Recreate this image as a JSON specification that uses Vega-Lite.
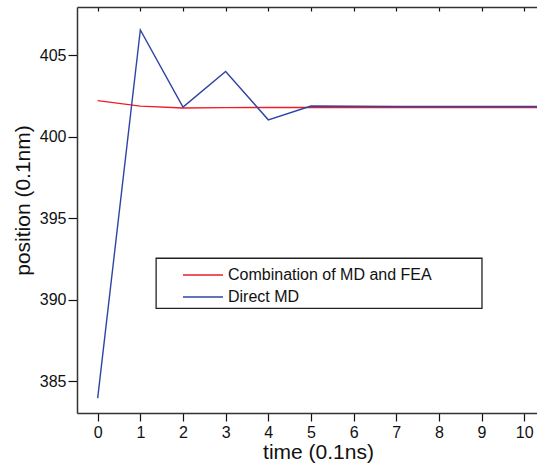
{
  "$schema": "https://vega.github.io/schema/vega-lite/v6.json",
  "width": 460,
  "height": 406,
  "autosize": {"type": "none"},
  "padding": {"left": 77, "top": 7, "right": 0, "bottom": 54},
  "background": "white",
  "config": {
    "view": {"stroke": null},
    "font": "Liberation Sans",
    "axis": {
      "domainColor": "#333333",
      "domainWidth": 1.5,
      "tickColor": "#111111",
      "tickWidth": 1.2,
      "labelColor": "#111111",
      "titleColor": "#111111",
      "labelFontSize": 16,
      "titleFontSize": 21,
      "titleFontWeight": "normal",
      "grid": false
    }
  },
  "layer": [
    {
      "data": {"values": [{"k": "box"}]},
      "mark": {"type": "rect", "stroke": "#222222", "strokeWidth": 1.3, "fill": "white"},
      "encoding": {
        "x": {"datum": 1.37, "type": "quantitative", "scale": {"domain": [-0.485, 10.3], "nice": false, "zero": false}, "axis": null},
        "x2": {"datum": 9.01},
        "y": {
          "datum": 392.54,
          "type": "quantitative",
          "scale": {"domain": [383.05, 407.95], "nice": false, "zero": false},
          "axis": {
            "values": [385, 390, 395, 400, 405],
            "tickSize": 9,
            "labelPadding": 2,
            "title": "position (0.1nm)",
            "titleX": -54,
            "titleY": 193,
            "titleBaseline": "middle",
            "titleAngle": 270
          }
        },
        "y2": {"datum": 389.47}
      }
    },
    {
      "data": {
        "values": [
          {"t": 0, "pos": 402.21, "series": "Combination of MD and FEA"},
          {"t": 1, "pos": 401.87, "series": "Combination of MD and FEA"},
          {"t": 2, "pos": 401.76, "series": "Combination of MD and FEA"},
          {"t": 3, "pos": 401.78, "series": "Combination of MD and FEA"},
          {"t": 4, "pos": 401.79, "series": "Combination of MD and FEA"},
          {"t": 5, "pos": 401.79, "series": "Combination of MD and FEA"},
          {"t": 6, "pos": 401.79, "series": "Combination of MD and FEA"},
          {"t": 7, "pos": 401.79, "series": "Combination of MD and FEA"},
          {"t": 8, "pos": 401.79, "series": "Combination of MD and FEA"},
          {"t": 9, "pos": 401.79, "series": "Combination of MD and FEA"},
          {"t": 10, "pos": 401.79, "series": "Combination of MD and FEA"},
          {"t": 11, "pos": 401.79, "series": "Combination of MD and FEA"},
          {"t": 0, "pos": 383.96, "series": "Direct MD"},
          {"t": 1, "pos": 406.54, "series": "Direct MD"},
          {"t": 2, "pos": 401.81, "series": "Direct MD"},
          {"t": 3, "pos": 403.99, "series": "Direct MD"},
          {"t": 4, "pos": 401.03, "series": "Direct MD"},
          {"t": 5, "pos": 401.88, "series": "Direct MD"},
          {"t": 6, "pos": 401.86, "series": "Direct MD"},
          {"t": 7, "pos": 401.85, "series": "Direct MD"},
          {"t": 8, "pos": 401.85, "series": "Direct MD"},
          {"t": 9, "pos": 401.85, "series": "Direct MD"},
          {"t": 10, "pos": 401.85, "series": "Direct MD"},
          {"t": 11, "pos": 401.85, "series": "Direct MD"}
        ]
      },
      "encoding": {
        "y": {"field": "pos", "type": "quantitative"},
        "color": {
          "field": "series",
          "type": "nominal",
          "scale": {
            "domain": ["Combination of MD and FEA", "Direct MD"],
            "range": ["#ee1c25", "#2f45a6"]
          },
          "legend": {
            "title": null,
            "orient": "none",
            "legendX": 117,
            "legendY": 259,
            "padding": 0,
            "symbolType": "M-2.5,0H2.5",
            "symbolSize": 256,
            "symbolStrokeWidth": 1.5,
            "symbolOffset": 0,
            "labelFontSize": 16,
            "labelColor": "#111111",
            "labelOffset": 16,
            "labelLimit": 400,
            "rowPadding": 5
          }
        }
      },
      "layer": [
        {
          "transform": [{"filter": "datum.series == 'Combination of MD and FEA'"}],
          "mark": {"type": "line", "strokeWidth": 1.4, "clip": true},
          "encoding": {
            "x": {
              "field": "t",
              "type": "quantitative",
              "axis": {
                "orient": "bottom",
                "values": [0, 1, 2, 3, 4, 5, 6, 7, 8, 9, 10],
                "tickSize": 8,
                "labelPadding": 3,
                "labelFlush": false,
                "title": "time (0.1ns)",
                "titleX": 241,
                "titleY": 45,
                "titleBaseline": "alphabetic"
              }
            }
          }
        },
        {
          "transform": [{"filter": "datum.series == 'Direct MD'"}],
          "mark": {"type": "line", "strokeWidth": 1.4, "clip": true},
          "encoding": {
            "x": {
              "field": "t",
              "type": "quantitative",
              "axis": {
                "orient": "top",
                "values": [0, 1, 2, 3, 4, 5, 6, 7, 8, 9, 10],
                "tickSize": -4,
                "labels": false,
                "title": null
              }
            }
          }
        }
      ],
      "resolve": {"axis": {"x": "independent"}}
    }
  ],
  "resolve": {"axis": {"x": "independent"}}
}
